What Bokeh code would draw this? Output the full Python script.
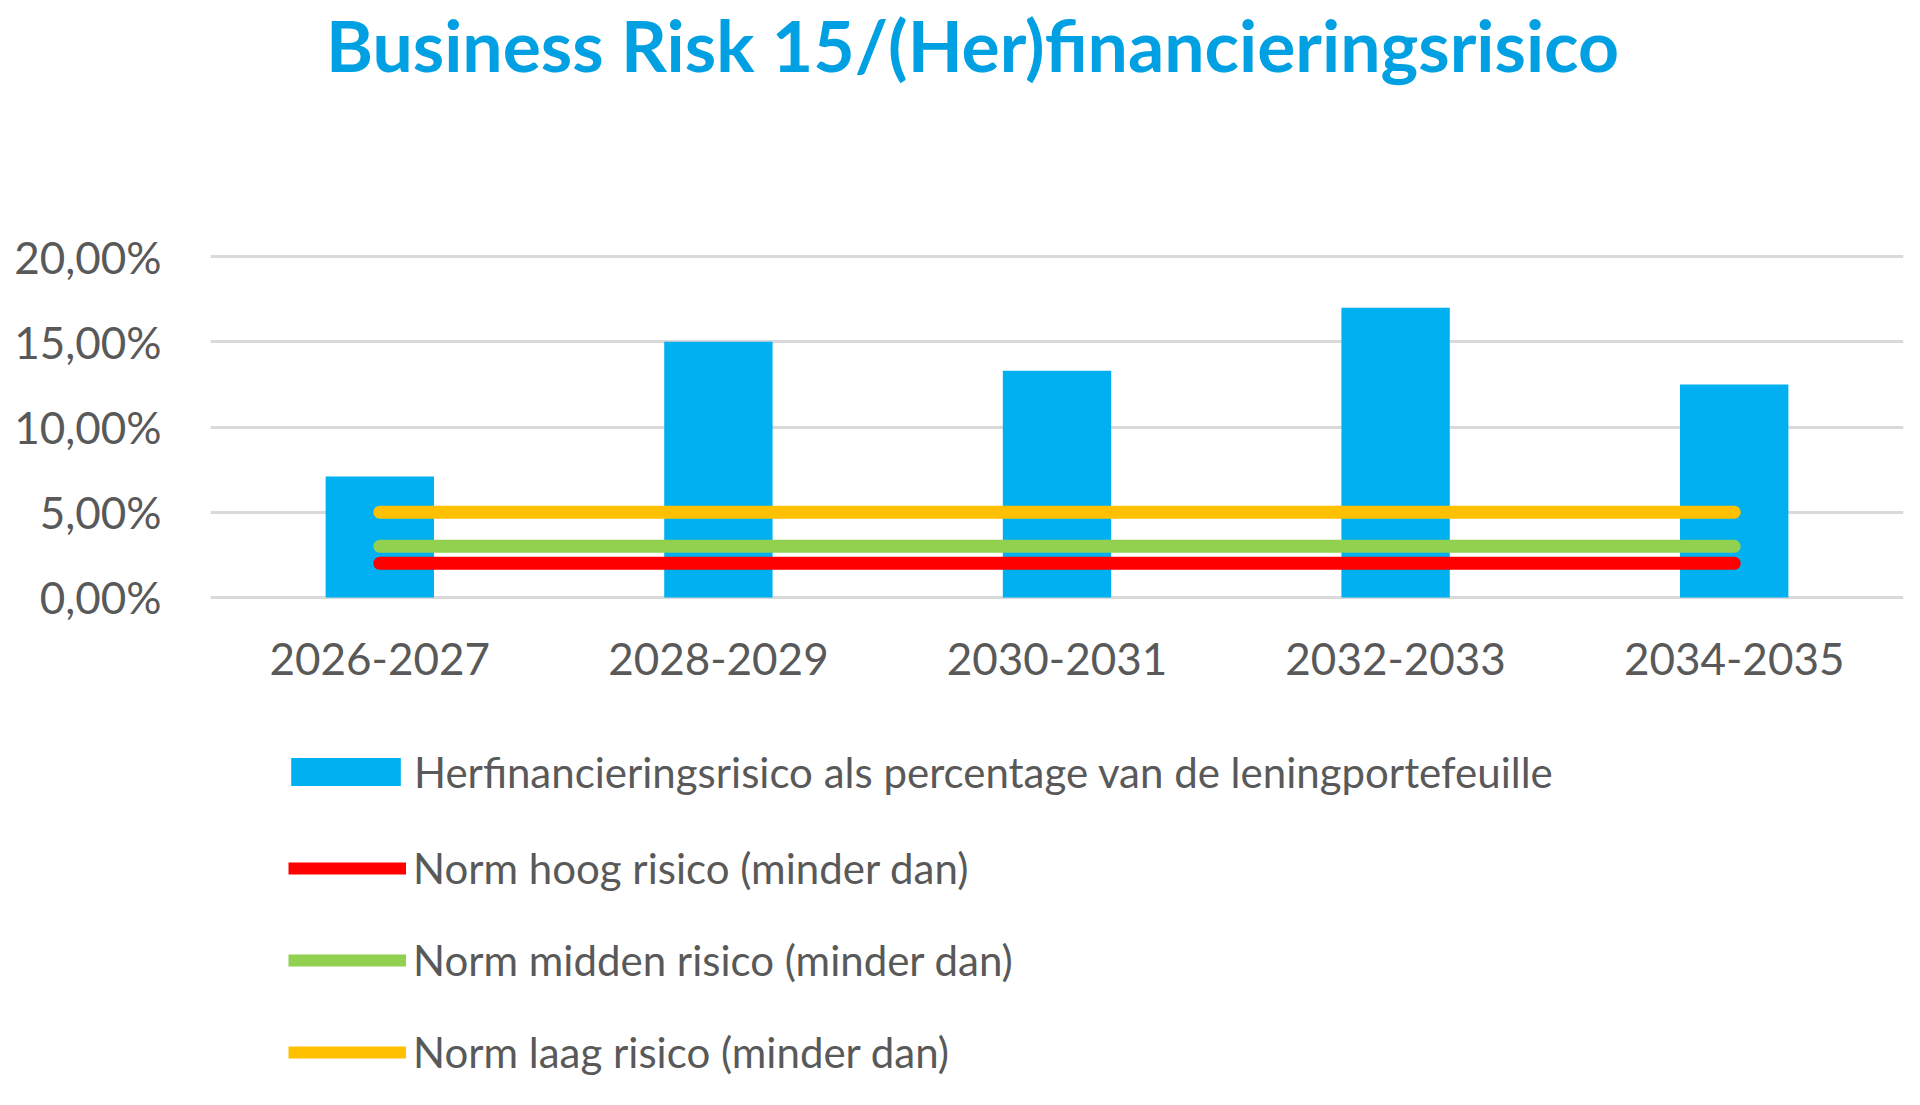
from bokeh.plotting import figure
from bokeh.layouts import column
from bokeh.models import (FactorRange, Range1d, FixedTicker, CustomJSTickFormatter,
                          Legend, LegendItem, ColumnDataSource, Label)
from bokeh.embed import file_html
from bokeh.resources import INLINE

# ---- data ----
periods = ["2026-2027", "2028-2029", "2030-2031", "2032-2033", "2034-2035"]
herfinancieringsrisico = [0.071, 0.150, 0.133, 0.170, 0.125]
norm_hoog = [0.02, 0.02, 0.02, 0.02, 0.02]
norm_midden = [0.03, 0.03, 0.03, 0.03, 0.03]
norm_laag = [0.05, 0.05, 0.05, 0.05, 0.05]
y_ticks = [0.0, 0.05, 0.10, 0.15, 0.20]

title_text = "Business Risk 15/(Her)financieringsrisico"
label_bar = "Herfinancieringsrisico als percentage van de leningportefeuille"
label_hoog = "Norm hoog risico (minder dan)"
label_midden = "Norm midden risico (minder dan)"
label_laag = "Norm laag risico (minder dan)"

FONT = "Lato"
GREY = "#595959"
BLUE = "#00B0F0"
RED = "#FF0000"
GREEN = "#92D050"
YELLOW = "#FFC000"
W = 1904

src = ColumnDataSource(dict(period=periods, value=herfinancieringsrisico,
                            hoog=norm_hoog, midden=norm_midden, laag=norm_laag))


def bare(height, x_range, y_range):
    f = figure(width=W, height=height, x_range=x_range, y_range=y_range,
               output_backend="svg", toolbar_location=None,
               x_axis_type=None, y_axis_type=None,
               min_border_left=0, min_border_right=0, min_border_top=0, min_border_bottom=0)
    f.outline_line_color = None
    f.grid.visible = False
    return f


# ---- title strip ----
pt = bare(200, Range1d(0, 1), Range1d(0, 1))
pt.add_layout(Label(x=762, y=157, x_units="screen", y_units="screen", text=title_text,
                    text_align="center", text_baseline="alphabetic", text_font=FONT,
                    text_font_style="bold", text_font_size="71.5px", text_color="#00A0E2"))

# ---- chart ----
p = figure(width=W, height=500, x_range=FactorRange(*periods),
           y_range=Range1d(-0.0018, 0.2018),
           output_backend="svg", toolbar_location=None,
           min_border_left=210, min_border_right=1, min_border_top=53, min_border_bottom=100)
p.outline_line_color = None

p.xgrid.grid_line_color = None
p.ygrid.ticker = FixedTicker(ticks=y_ticks)
p.ygrid.grid_line_color = "#D9D9D9"
p.ygrid.grid_line_width = 3

p.yaxis.ticker = FixedTicker(ticks=y_ticks)
p.yaxis.formatter = CustomJSTickFormatter(code="return (tick*100).toFixed(2).replace('.', ',') + '%';")
for ax in (p.xaxis[0], p.yaxis[0]):
    ax.axis_line_color = None
    ax.major_tick_line_color = None
    ax.minor_tick_line_color = None
    ax.major_label_text_font = FONT
    ax.major_label_text_font_size = "44px"
    ax.major_label_text_color = GREY
p.yaxis.major_label_standoff = 43
p.xaxis.major_label_standoff = 36

p.vbar(x="period", top="value", width=0.32, source=src, fill_color=BLUE, line_color=None)
p.line(x="period", y="hoog", source=src, line_color=RED, line_width=13, line_cap="round")
p.line(x="period", y="midden", source=src, line_color=GREEN, line_width=13, line_cap="round")
p.line(x="period", y="laag", source=src, line_color=YELLOW, line_width=13, line_cap="round")

# ---- legend strip (swatch renderers share the data but lie outside this strip's view) ----
pl = bare(389, FactorRange(*periods), Range1d(1, 2))
lb = pl.vbar(x="period", top="value", width=0.32, source=src, fill_color=BLUE, line_color=None)
lr = pl.line(x="period", y="hoog", source=src, line_color=RED, line_width=12)
lg = pl.line(x="period", y="midden", source=src, line_color=GREEN, line_width=12)
ly = pl.line(x="period", y="laag", source=src, line_color=YELLOW, line_width=12)

common = dict(orientation="vertical", padding=0, margin=0, border_line_color=None,
              background_fill_alpha=0, label_height=28, label_text_font=FONT,
              label_text_font_size="42px", label_text_color=GREY)

legend_bar = Legend(items=[LegendItem(label=label_bar, renderers=[lb])],
                    location=(67, 292.5), glyph_width=137, glyph_height=35,
                    label_standoff=0, **common)
legend_lines = Legend(items=[LegendItem(label=label_hoog, renderers=[lr]),
                             LegendItem(label=label_midden, renderers=[lg]),
                             LegendItem(label=label_laag, renderers=[ly])],
                      location=(78, 12.5), glyph_width=118, glyph_height=28, spacing=42,
                      label_standoff=7, **common)
pl.add_layout(legend_bar, "center")
pl.add_layout(legend_lines, "center")

layout = column(pt, p, pl, spacing=0)
open("out.html", "w").write(file_html(layout, INLINE))
